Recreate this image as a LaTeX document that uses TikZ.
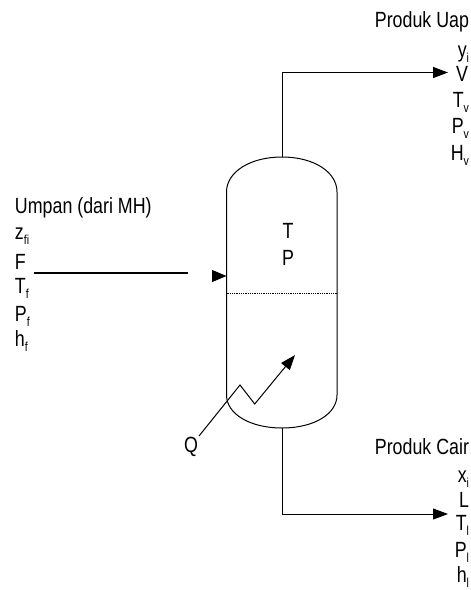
\documentclass[tikz,border=0pt]{standalone}
\usepackage{fontspec}
\setmainfont[FakeStretch=0.81]{Liberation Sans}
\usetikzlibrary{arrows.meta}
\newcommand{\lbl}[2]{#1\raisebox{-5pt}{\fontsize{13}{13}\selectfont #2}}
\tikzset{
  txt/.style={font=\fontsize{22}{22}\selectfont, inner sep=0pt, outer sep=0pt},
  rlab/.style={txt, anchor=base east},
  llab/.style={txt, anchor=base west},
  line/.style={draw=black, line width=1pt},
  tip/.style={-{Triangle[length=15pt,width=11pt]}, line width=1pt}
}
\begin{document}
\begin{tikzpicture}[x=1pt,y=-1pt]
\useasboundingbox (0,0) rectangle (471,590);
% vessel
\coordinate (vtop) at (282,157);
\coordinate (vbot) at (282,428);
\draw[line] (vtop) .. controls (250,157) and (226.5,172) .. (226.5,192)
  -- (226.5,395) .. controls (226.5,414) and (250,428) .. (vbot)
  .. controls (314,428) and (337,414) .. (337,395)
  -- (337,192) .. controls (337,172) and (314,157) .. (vtop);
\coordinate (lsL) at (226.5,293.5);
\coordinate (lsR) at (337,293.5);
\draw[densely dotted, line width=0.8pt] (lsL) -- (lsR);
% text in vessel
\node[txt, anchor=base] (nT) at (288,238) {T};
\node[txt, anchor=base] (nP) at (288,265) {P};
% outlets
\coordinate (outV) at (448,72.5);
\coordinate (outL) at (448,514);
\draw[tip] (vtop) |- (outV);
\draw[tip] (vbot) |- (outL);
% feed
\coordinate (fa) at (34,272.7);
\coordinate (fb) at (188,272.7);
\draw[line width=1.7pt] (fa) -- (fb);
\coordinate (fc) at (212,276);
\coordinate (fd) at (226.5,276);
\draw[-{Triangle[length=14.5pt,width=12pt]}, line width=0.9pt] (fc) -- (fd);
% heat
\coordinate (q0) at (199,436);
\coordinate (q1) at (240,385);
\coordinate (q2) at (254.7,404);
\coordinate (q3) at (295,355);
\draw[tip] (q0) -- (q1) -- (q2) -- (q3);
\node[txt, anchor=base] (nQ) at (191,452) {Q};
% left labels
\node[llab] (u0) at (15,213) {Umpan (dari MH)};
\node[llab] (u1) at (15,239) {\lbl{z}{fi}};
\node[llab] (u2) at (15,269) {F};
\node[llab] (u3) at (15,293) {\lbl{T}{f}};
\node[llab] (u4) at (15,321) {\lbl{P}{f}};
\node[llab] (u5) at (15,346) {\lbl{h}{f}};
% vapour labels
\node[rlab] (v0) at (469,27) {Produk Uap};
\node[rlab] (v1) at (469,57) {\lbl{y}{i}};
\node[rlab] (v2) at (468,81.5) {V};
\node[rlab] (v3) at (469,107) {\lbl{T}{v}};
\node[rlab] (v4) at (469,133) {\lbl{P}{v}};
\node[rlab] (v5) at (469,160) {\lbl{H}{v}};
% liquid labels
\node[rlab] (l0) at (469,454) {Produk Cair};
\node[rlab] (l1) at (469,482) {\lbl{x}{i}};
\node[rlab] (l2) at (469,507) {L};
\node[rlab] (l3) at (469,530) {\lbl{T}{l}};
\node[rlab] (l4) at (469,557) {\lbl{P}{l}};
\node[rlab] (l5) at (469,582) {\lbl{h}{l}};
\end{tikzpicture}
\end{document}
